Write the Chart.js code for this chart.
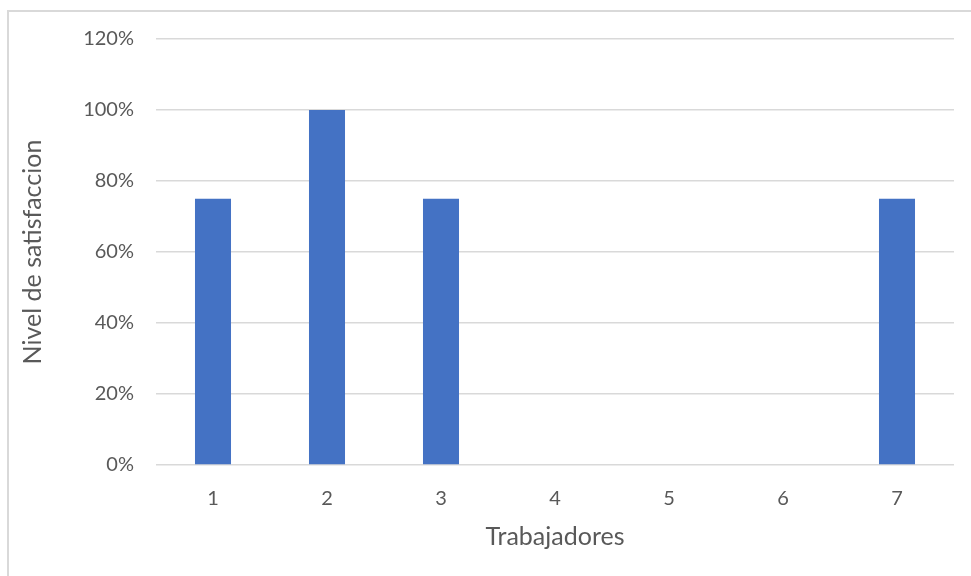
<!DOCTYPE html>
<html>
<head>
<meta charset="utf-8">
<script src="https://cdn.jsdelivr.net/npm/chart.js@4"></script>
<style>
  body { margin: 0; background: #fff; }
  #wrap { position: relative; width: 971px; height: 576px; }
  #frame { position: absolute; left: 7px; top: 10px; width: 980px; height: 600px;
           border-left: 2px solid #d9d9d9; border-top: 2px solid #d9d9d9; box-sizing: border-box; }
  #chart { position: absolute; left: 0; top: 0; }
</style>
</head>
<body>
<div id="wrap">
  <div id="frame"></div>
  <canvas id="chart" width="971" height="576"></canvas>
</div>
<script>
// data
var trabajadores = ["1", "2", "3", "4", "5", "6", "7"];
var satisfaccion = [0.75, 1.00, 0.75, 0, 0, 0, 0.75];
var yTicks = [0, 0.2, 0.4, 0.6, 0.8, 1.0, 1.2];

var gray = "#595959";
var tickFont = { family: "Lato", size: 20 };
var titleFont = { family: "Lato", size: 25 };

var canvasElement = document.getElementById("chart");
var config = {
    type: "bar",
    data: {
        labels: trabajadores,
        datasets: [{
            label: "Nivel de satisfaccion",
            data: satisfaccion,
            backgroundColor: "#4472C4",
            categoryPercentage: 1,
            barPercentage: 0.316
        }]
    },
    options: {
        responsive: false,
        animation: false,
        layout: { padding: { top: 39, right: 17, left: 0, bottom: 0 } },
        plugins: { legend: { display: false }, tooltip: { enabled: false } },
        scales: {
            x: {
                grid: { display: false, drawTicks: false, tickLength: 0 },
                border: { display: false },
                ticks: { color: gray, font: tickFont, padding: 22 },
                title: { display: true, text: "Trabajadores", color: gray, font: titleFont, padding: { top: 24, bottom: 24 } },
                afterFit: function (s) { s.height = 576 - 465; }
            },
            y: {
                min: 0,
                max: 1.2,
                afterBuildTicks: function (s) { s.ticks = yTicks.map(function (v) { return { value: v }; }); },
                grid: { color: "#d9d9d9", lineWidth: 1.5, drawTicks: false },
                border: { display: false },
                ticks: {
                    color: gray, font: tickFont, padding: 22,
                    callback: function (v) { return Math.round(v * 100) + "%"; }
                },
                title: { display: true, text: "Nivel de satisfaccion", color: gray, font: titleFont, padding: { top: 18, bottom: 18 } },
                afterFit: function (s) { s.width = 156; }
            }
        }
    }
};

var satisfaccionChart = new Chart(canvasElement, config);
</script>
</body>
</html>
